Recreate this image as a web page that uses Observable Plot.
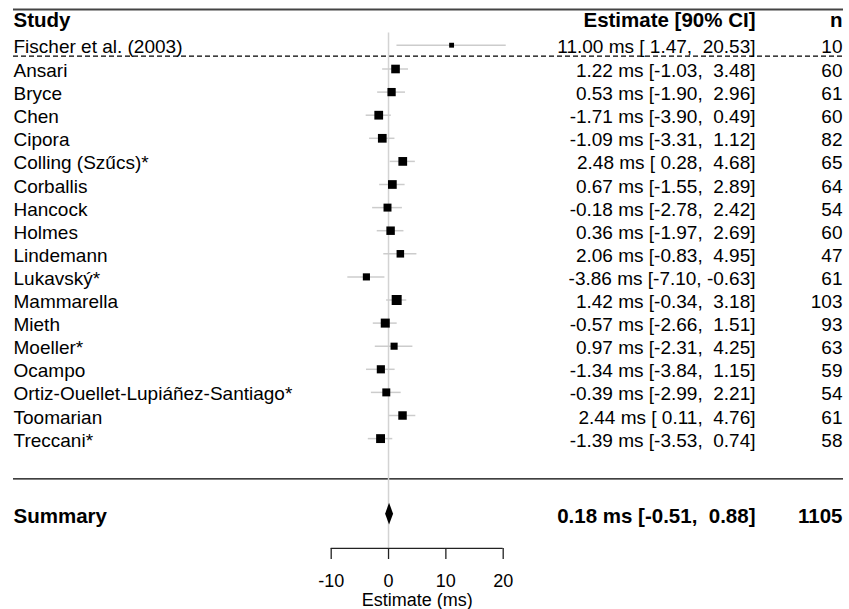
<!DOCTYPE html>
<html><head><meta charset="utf-8">
<script src="https://cdn.jsdelivr.net/npm/d3@7"></script>
<script src="https://cdn.jsdelivr.net/npm/@observablehq/plot@0.6"></script>
<style>
body{margin:0;background:#fff}
svg text{white-space:pre}
</style></head><body><div id="chart"></div>
<script>
// ---- data ----
const STUDIES = ["Ansari","Bryce","Chen","Cipora","Colling (Szűcs)*","Corballis","Hancock","Holmes","Lindemann","Lukavský*","Mammarella","Mieth","Moeller*","Ocampo","Ortiz-Ouellet-Lupiáñez-Santiago*","Toomarian","Treccani*"];
const EST = [1.22,0.53,-1.71,-1.09,2.48,0.67,-0.18,0.36,2.06,-3.86,1.42,-0.57,0.97,-1.34,-0.39,2.44,-1.39];
const LO  = [-1.03,-1.90,-3.90,-3.31,0.28,-1.55,-2.78,-1.97,-0.83,-7.10,-0.34,-2.66,-2.31,-3.84,-2.99,0.11,-3.53];
const HI  = [3.48,2.96,0.49,1.12,4.68,2.89,2.42,2.69,4.95,-0.63,3.18,1.51,4.25,1.15,2.21,4.76,0.74];
const N   = [60,61,60,82,65,64,54,60,47,61,103,93,63,59,54,61,58];

const ORIG_NAME = "Fischer et al. (2003)";
const ORIG_EST = 11.00, ORIG_LO = 1.47, ORIG_HI = 20.53, ORIG_N = 10;

const SUM_LABEL = "Summary";
const SUM_EST = 0.18, SUM_LO = -0.51, SUM_HI = 0.88, SUM_N = 1105;

const HEADERS = ["Study", "Estimate [90% CI]", "n"];
const TICKS = [-10, 0, 10, 20];
const AXIS_LABEL = "Estimate (ms)";

// ---- layout (row units: one study row = 1, first study = 0) ----
const ROW = {topRule: -2.576, header: -2.2, zeroTop: -1.558, original: -1.03, dash: -0.554,
             bottomRule: 17.74, summary: 19.27, axis: 20.75};
const TEXT_DY = 2;
const FONT = "'Liberation Sans', Arial, Helvetica, sans-serif";
const FS = 19, FSB = 20.5;

// sign-space formatting, like printf("% .2f")
const sp = (v) => (v >= 0 ? " " : "") + v.toFixed(2);
const label = (e, l, h) => `${e.toFixed(2)} ms [${sp(l)}, ${sp(h)}]`;

const rows = [
  {name: ORIG_NAME, est: ORIG_EST, lo: ORIG_LO, hi: ORIG_HI, n: ORIG_N, row: ROW.original},
  ...STUDIES.map((s, i) => ({name: s, est: EST[i], lo: LO[i], hi: HI[i], n: N[i], row: i}))
].map(d => ({...d, w: 1 / (d.hi - d.lo), text: label(d.est, d.lo, d.hi)}));

const H = 10.8 / 23.1; // diamond half-height in rows
const diamond = [
  {x: SUM_LO, y1: ROW.summary, y2: ROW.summary},
  {x: SUM_EST, y1: ROW.summary - H, y2: ROW.summary + H},
  {x: SUM_HI, y1: ROW.summary, y2: ROW.summary}
];

const chart = Plot.plot({
  width: 849, height: 609,
  marginTop: 0, marginBottom: 61, marginLeft: 13, marginRight: 6,
  style: {fontFamily: FONT, background: "#fff", color: "#000"},
  x: {domain: [-10, 20], range: [330.7, 502.7]},
  y: {domain: [0, 16], range: [68.5, 68.5 + 16 * 23.1], axis: null},
  r: {type: "linear", domain: [0, d3.max(rows, d => d.w)], range: [2.1, 5.64]},
  marks: [
    Plot.ruleY([ROW.topRule], {stroke: "#444", strokeWidth: 2}),
    Plot.ruleY([ROW.dash], {stroke: "#000", strokeWidth: 1.2, strokeDasharray: "5,3"}),
    Plot.ruleY([ROW.bottomRule], {stroke: "#000", strokeWidth: 1.2}),
    Plot.ruleX([0], {y1: ROW.zeroTop, y2: ROW.axis, stroke: "#d3d3d3", strokeWidth: 1.5}),
    Plot.ruleY(rows, {y: "row", x1: "lo", x2: "hi", stroke: "#cccccc", strokeWidth: 1.5}),
    Plot.dot(rows, {x: "est", y: "row", r: "w", symbol: "square", fill: "#000", stroke: null}),
    Plot.text(rows, {y: "row", text: "name", frameAnchor: "left", textAnchor: "start", dy: TEXT_DY, fontSize: FS}),
    Plot.text(rows, {y: "row", text: "text", frameAnchor: "right", textAnchor: "end", dx: -88, dy: TEXT_DY, fontSize: FS}),
    Plot.text(rows, {y: "row", text: d => String(d.n), frameAnchor: "right", textAnchor: "end", dx: -1, dy: TEXT_DY, fontSize: FS}),
    // headers
    Plot.text([HEADERS[0]], {y: ROW.header, text: d => d, frameAnchor: "left", textAnchor: "start", dy: TEXT_DY, fontSize: FSB, fontWeight: "bold"}),
    Plot.text([HEADERS[1]], {y: ROW.header, text: d => d, frameAnchor: "right", textAnchor: "end", dx: -88, dy: TEXT_DY, fontSize: FSB, fontWeight: "bold"}),
    Plot.text([HEADERS[2]], {y: ROW.header, text: d => d, frameAnchor: "right", textAnchor: "end", dx: -1, dy: TEXT_DY, fontSize: FSB, fontWeight: "bold"}),
    // summary
    Plot.areaY(diamond, {x: "x", y1: "y1", y2: "y2", fill: "#000", curve: "linear"}),
    Plot.text([SUM_LABEL], {y: ROW.summary, text: d => d, frameAnchor: "left", textAnchor: "start", dy: TEXT_DY, fontSize: FSB, fontWeight: "bold"}),
    Plot.text([label(SUM_EST, SUM_LO, SUM_HI)], {y: ROW.summary, text: d => d, frameAnchor: "right", textAnchor: "end", dx: -88, dy: TEXT_DY, fontSize: FSB, fontWeight: "bold"}),
    Plot.text([String(SUM_N)], {y: ROW.summary, text: d => d, frameAnchor: "right", textAnchor: "end", dx: -1, dy: TEXT_DY, fontSize: FSB, fontWeight: "bold"}),
    // axis
    Plot.ruleY([ROW.axis], {x1: d3.min(TICKS), x2: d3.max(TICKS), stroke: "#222", strokeWidth: 1.3}),
    Plot.axisX({ticks: TICKS, tickSize: 11, tickPadding: 15, fontSize: 18, label: null, tickFormat: d => String(d), stroke: "#222", strokeWidth: 1.3}),
    Plot.text([AXIS_LABEL], {x: d3.mean(TICKS), y: ROW.axis, text: d => d, dy: 52, fontSize: 18})
  ]
});
document.getElementById("chart").appendChild(chart);
</script></body></html>
